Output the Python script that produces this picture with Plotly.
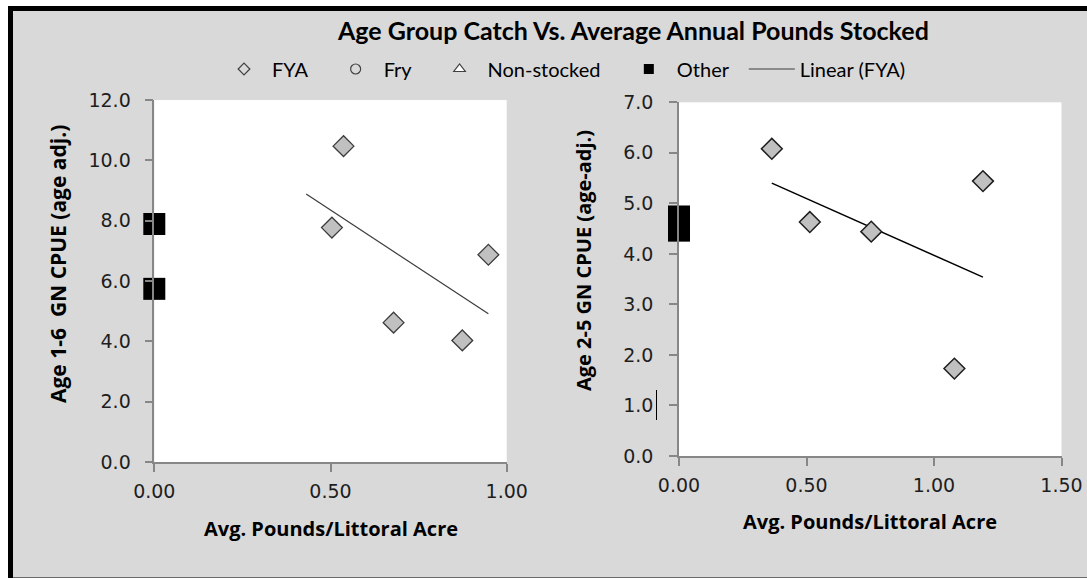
import numpy as np
import plotly.graph_objects as go

W, H = 1087, 578

# ---------------- data ----------------
# Left panel: Age 1-6 GN CPUE (age adj.)
fya1_x = [0.537, 0.504, 0.679, 0.874, 0.948]
fya1_y = [10.47, 7.77, 4.62, 4.03, 6.87]
other1_x = [0.0, 0.0]
other1_y = [7.89, 5.74]

# Right panel: Age 2-5 GN CPUE (age-adj.)
fya2_x = [0.364, 0.513, 0.754, 1.080, 1.192]
fya2_y = [6.08, 4.63, 4.44, 1.73, 5.44]
other2_x = [0.0, 0.0]
other2_y = [4.74, 4.46]

# Empty series (present only in the legend)
fry_x, fry_y = [None], [None]
nonstocked_x, nonstocked_y = [None], [None]

# Excel trendline "backward forecast" used on the left panel
trend1_backward = 0.073

x1_ticks = [0.0, 0.5, 1.0]
y1_ticks = [0, 2, 4, 6, 8, 10, 12]
x2_ticks = [0.0, 0.5, 1.0, 1.5]
y2_ticks = [0, 1, 2, 3, 4, 5, 6, 7]

title_text = "Age Group Catch Vs. Average Annual Pounds Stocked"
xtitle = "Avg. Pounds/Littoral Acre"
y1title = "Age 1-6  GN CPUE (age adj.)"
y2title = "Age 2-5 GN CPUE (age-adj.)"

# ---------------- helpers ----------------
def px(p):
    return p / W


def py(p):
    return 1 - p / H


def trend(xs, ys, backward=0.0):
    coef = np.polyfit(xs, ys, 1)
    tx = np.array([min(xs) - backward, max(xs)])
    return tx, np.polyval(coef, tx)


GRAY_AX = "#878787"
BG = "#d9d9d9"
DIAMOND_FILL = "#c0c0c0"
DIAMOND_LINE = "#3c3c3c"
TICK_FONT = dict(family="DejaVu Sans", size=19, color="#1e1e1e")
AX_TITLE_FONT = dict(family="Open Sans", size=20, color="black", weight="bold")
NBSP = "\u00a0"

fig = go.Figure()

# ---------------- legend-only entries ----------------
fig.add_trace(go.Scatter(x=[None], y=[None], mode="markers", name="FYA" + NBSP * 3,
                         marker=dict(symbol="diamond-open", size=9, color="#404040",
                                     line=dict(width=1.2)),
                         xaxis="x", yaxis="y"))
fig.add_trace(go.Scatter(x=fry_x, y=fry_y, mode="markers", name="Fry" + NBSP * 3,
                         marker=dict(symbol="circle-open", size=10, color="#404040",
                                     line=dict(width=1.2)),
                         xaxis="x", yaxis="y"))
fig.add_trace(go.Scatter(x=nonstocked_x, y=nonstocked_y, mode="markers",
                         name="Non-stocked" + NBSP * 3,
                         marker=dict(symbol="triangle-up", size=10, color="white",
                                     line=dict(width=1.2, color="#404040")),
                         xaxis="x", yaxis="y"))
fig.add_trace(go.Scatter(x=[None], y=[None], mode="markers", name="Other" + NBSP * 2,
                         marker=dict(symbol="square", size=10, color="black"),
                         xaxis="x", yaxis="y"))
fig.add_trace(go.Scatter(x=[None], y=[None], mode="lines", name="Linear (FYA)",
                         line=dict(color="#3c3c3c", width=1.2),
                         xaxis="x", yaxis="y"))

# ---------------- left panel ----------------
t1x, t1y = trend(fya1_x, fya1_y, trend1_backward)
fig.add_trace(go.Scatter(x=t1x, y=t1y, mode="lines", showlegend=False,
                         line=dict(color="#3c3c3c", width=1.2), xaxis="x", yaxis="y"))
fig.add_trace(go.Scatter(x=fya1_x, y=fya1_y, mode="markers", showlegend=False,
                         marker=dict(symbol="diamond", size=16, color=DIAMOND_FILL,
                                     line=dict(color=DIAMOND_LINE, width=1.3)),
                         xaxis="x", yaxis="y"))
fig.add_trace(go.Scatter(x=other1_x, y=other1_y, mode="markers", showlegend=False,
                         cliponaxis=False,
                         marker=dict(symbol="square", size=22, color="black",
                                     line=dict(width=0)),
                         xaxis="x", yaxis="y"))

# ---------------- right panel ----------------
t2x, t2y = trend(fya2_x, fya2_y)
fig.add_trace(go.Scatter(x=t2x, y=t2y, mode="lines", showlegend=False,
                         line=dict(color="black", width=1.5), xaxis="x2", yaxis="y2"))
fig.add_trace(go.Scatter(x=fya2_x, y=fya2_y, mode="markers", showlegend=False,
                         marker=dict(symbol="diamond", size=16, color=DIAMOND_FILL,
                                     line=dict(color="#1e1e1e", width=1.5)),
                         xaxis="x2", yaxis="y2"))
fig.add_trace(go.Scatter(x=other2_x, y=other2_y, mode="markers", showlegend=False,
                         cliponaxis=False,
                         marker=dict(symbol="square", size=22, color="black",
                                     line=dict(width=0)),
                         xaxis="x2", yaxis="y2"))

axis_common = dict(showgrid=False, zeroline=False, showline=True, linecolor=GRAY_AX,
                   linewidth=1.5, ticks="outside", ticklen=8, tickwidth=1.5,
                   tickcolor=GRAY_AX, tickfont=TICK_FONT, automargin=False)

fig.update_layout(
    width=W, height=H,
    margin=dict(l=0, r=0, t=0, b=0, pad=0),
    paper_bgcolor=BG,
    plot_bgcolor="white",
    showlegend=True,
    xaxis=dict(domain=[px(154.3), px(506.7)], range=[0, 1.0], tickvals=x1_ticks,
               tickformat=".2f", anchor="y", ticklabelstandoff=3, **axis_common),
    yaxis=dict(domain=[py(462), py(100)], range=[0, 12], tickvals=y1_ticks,
               tickformat=".1f", anchor="x", ticklabelstandoff=10, **axis_common),
    xaxis2=dict(domain=[px(679), px(1061.5)], range=[0, 1.5], tickvals=x2_ticks,
                tickformat=".2f", anchor="y2", ticklabelstandoff=3, **axis_common),
    yaxis2=dict(domain=[py(456), py(102.3)], range=[0, 7], tickvals=y2_ticks,
                tickformat=".1f", anchor="x2", ticklabelstandoff=12, **axis_common),
    legend=dict(orientation="h", x=px(216), xanchor="left", y=py(69), yanchor="middle",
                bgcolor="rgba(0,0,0,0)", borderwidth=0, itemwidth=46,
                traceorder="normal",
                font=dict(family="Lato", size=20, color="black")),
    shapes=[
        # white page strip outside the frame (left and top)
        dict(type="rect", xref="paper", yref="paper", layer="above",
             x0=0, x1=px(8), y0=0, y1=1, fillcolor="white", line=dict(width=0)),
        dict(type="rect", xref="paper", yref="paper", layer="above",
             x0=0, x1=1, y0=py(6), y1=1, fillcolor="white", line=dict(width=0)),
        # heavy black frame
        dict(type="rect", xref="paper", yref="paper", layer="above",
             x0=px(10.5), x1=px(1092), y0=py(580), y1=py(8.5),
             fillcolor="rgba(0,0,0,0)", line=dict(color="black", width=5)),
        # stray text cursor next to the "1.0" tick label (right panel)
        dict(type="line", xref="paper", yref="paper",
             x0=px(656.5), x1=px(656.5), y0=py(420), y1=py(390),
             line=dict(color="black", width=1)),
    ],
    annotations=[
        dict(text=title_text, xref="paper", yref="paper", x=px(633), y=py(30),
             xanchor="center", yanchor="middle", showarrow=False,
             font=dict(family="Lato", size=25, color="black", weight="bold")),
        dict(text=xtitle, xref="paper", yref="paper", x=px(331), y=py(528),
             xanchor="center", yanchor="middle", showarrow=False, font=AX_TITLE_FONT),
        dict(text=xtitle, xref="paper", yref="paper", x=px(870), y=py(521),
             xanchor="center", yanchor="middle", showarrow=False, font=AX_TITLE_FONT),
        dict(text=y1title, xref="paper", yref="paper", x=px(58), y=py(264),
             xanchor="center", yanchor="middle", showarrow=False, textangle=-90,
             font=dict(family="Open Sans", size=21, color="black", weight="bold")),
        dict(text=y2title, xref="paper", yref="paper", x=px(584), y=py(261),
             xanchor="center", yanchor="middle", showarrow=False, textangle=-90,
             font=AX_TITLE_FONT),
    ],
)

fig.write_html("out.html", config={"displayModeBar": False},
               post_script="document.body.style.margin='0px';")
